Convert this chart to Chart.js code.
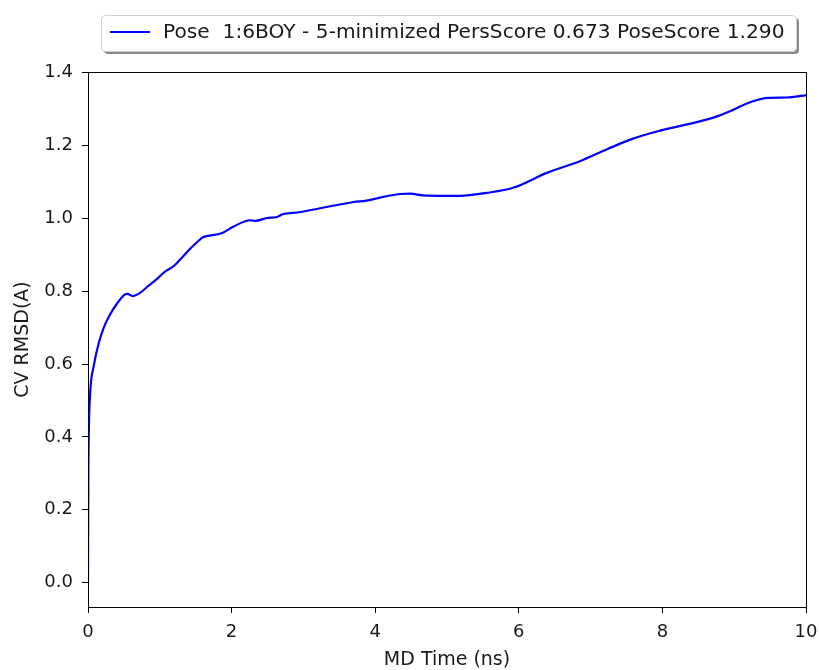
<!DOCTYPE html>
<html>
<head>
<meta charset="utf-8">
<script src="https://cdn.jsdelivr.net/npm/chart.js@4/dist/chart.umd.min.js"></script>
<style>
  body { margin: 0; background: #fff; }
  canvas { display: block; }
</style>
</head>
<body>
<canvas id="rmsdChart" width="819" height="670"></canvas>
<script>
// --- Data ---
const timeNs = [0, 0.005, 0.012, 0.03, 0.08, 0.15, 0.22, 0.29, 0.4, 0.52, 0.55, 0.62, 0.72, 0.83, 0.95,
  1.06, 1.2, 1.32, 1.43, 1.56, 1.6, 1.86, 2.02, 2.26, 2.33, 2.49, 2.63, 2.72, 2.95, 3.23, 3.42, 3.7,
  3.88, 4.11, 4.35, 4.49, 4.67, 4.9, 5.18, 5.55, 5.92, 6.39, 6.85, 7.23, 7.59, 8.01, 8.7, 8.94, 9.17,
  9.46, 9.73, 10];
const rmsd = [0, 0.30, 0.42, 0.52, 0.595, 0.658, 0.70, 0.73, 0.765, 0.792, 0.793, 0.787, 0.795, 0.813, 0.832,
  0.852, 0.87, 0.895, 0.918, 0.942, 0.948, 0.959, 0.977, 0.995, 0.993, 1.001, 1.004, 1.012, 1.017, 1.028, 1.035, 1.045,
  1.049, 1.059, 1.067, 1.068, 1.063, 1.062, 1.062, 1.07, 1.084, 1.125, 1.157, 1.19, 1.219, 1.243, 1.276, 1.294, 1.315,
  1.331, 1.332, 1.338];
const yTicks = [0.0, 0.2, 0.4, 0.6, 0.8, 1.0, 1.2, 1.4];
const xTicks = [0, 2, 4, 6, 8, 10];
const seriesLabel = 'Pose  1:6BOY - 5-minimized PersScore 0.673 PoseScore 1.290';

const FONT = 'DejaVu Sans';
const TEXT = '#1a1a1a';

// --- Plot frame (top/right spines) ---
const framePlugin = {
  id: 'frame',
  afterDraw(chart) {
    const { ctx, chartArea: a } = chart;
    ctx.save();
    ctx.strokeStyle = '#000';
    ctx.lineWidth = 1;
    ctx.strokeRect(a.left + 0.5, a.top + 0.5, a.right - a.left, a.bottom - a.top);
    ctx.restore();
  }
};

// --- Matplotlib-style legend box above the plot ---
const legendPlugin = {
  id: 'mplLegend',
  afterDraw(chart) {
    const ctx = chart.ctx;
    const ds = chart.data.datasets[0];
    const x = 101, y = 15, w = 695, h = 36, r = 4;
    ctx.save();
    // shadow
    ctx.fillStyle = '#8c8c8c';
    ctx.beginPath();
    ctx.roundRect(x + 3, y + 3, w, h, r);
    ctx.fill();
    // box
    ctx.fillStyle = '#fff';
    ctx.strokeStyle = '#d0d0d0';
    ctx.lineWidth = 1;
    ctx.beginPath();
    ctx.roundRect(x + 0.5, y + 0.5, w, h, r);
    ctx.fill();
    ctx.stroke();
    // sample line
    ctx.strokeStyle = ds.borderColor;
    ctx.lineWidth = 2;
    ctx.beginPath();
    ctx.moveTo(110, 32);
    ctx.lineTo(150, 32);
    ctx.stroke();
    // label
    ctx.fillStyle = TEXT;
    ctx.font = '20.2px "' + FONT + '"';
    ctx.textBaseline = 'middle';
    ctx.fillText(ds.label, 163, 33);
    ctx.restore();
  }
};

const ctx = document.getElementById('rmsdChart').getContext('2d');
new Chart(ctx, {
  type: 'line',
  data: {
    datasets: [{
      label: seriesLabel,
      data: timeNs.map((t, i) => ({ x: t, y: rmsd[i] })),
      borderColor: '#0000ff',
      borderWidth: 2.2,
      pointRadius: 0,
      fill: false,
      tension: 0,
      cubicInterpolationMode: 'monotone'
    }]
  },
  options: {
    responsive: false,
    animation: false,
    layout: { padding: { left: 0, right: 13, top: 72, bottom: 0 } },
    plugins: {
      legend: { display: false },
      tooltip: { enabled: false }
    },
    scales: {
      x: {
        type: 'linear',
        min: 0,
        max: 10,
        afterBuildTicks: s => { s.ticks = xTicks.map(v => ({ value: v })); },
        afterFit: s => { s.height = 63; s.paddingLeft = 0; s.paddingRight = 0; },
        grid: { drawOnChartArea: false, drawTicks: true, tickLength: 6, color: '#000' },
        border: { display: true, color: '#000', width: 1 },
        ticks: { color: TEXT, font: { family: FONT, size: 18 }, padding: 9, maxRotation: 0 },
        title: { display: true, text: 'MD Time (ns)', color: TEXT, font: { family: FONT, size: 19, lineHeight: 1 }, padding: { top: 2, bottom: 0 } }
      },
      y: {
        type: 'linear',
        min: -0.067,
        max: 1.402,
        afterBuildTicks: s => { s.ticks = yTicks.map(v => ({ value: v })); },
        afterFit: s => { s.width = 88; s.paddingTop = 0; s.paddingBottom = 0; },
        grid: { drawOnChartArea: false, drawTicks: true, tickLength: 6, color: '#000' },
        border: { display: true, color: '#000', width: 1 },
        ticks: { color: TEXT, font: { family: FONT, size: 18 }, padding: 9, callback: v => v.toFixed(1) },
        title: { display: true, text: 'CV RMSD(A)', color: TEXT, font: { family: FONT, size: 19, lineHeight: 1 }, padding: { top: 14, bottom: 0 } }
      }
    }
  },
  plugins: [framePlugin, legendPlugin]
});
</script>
</body>
</html>
